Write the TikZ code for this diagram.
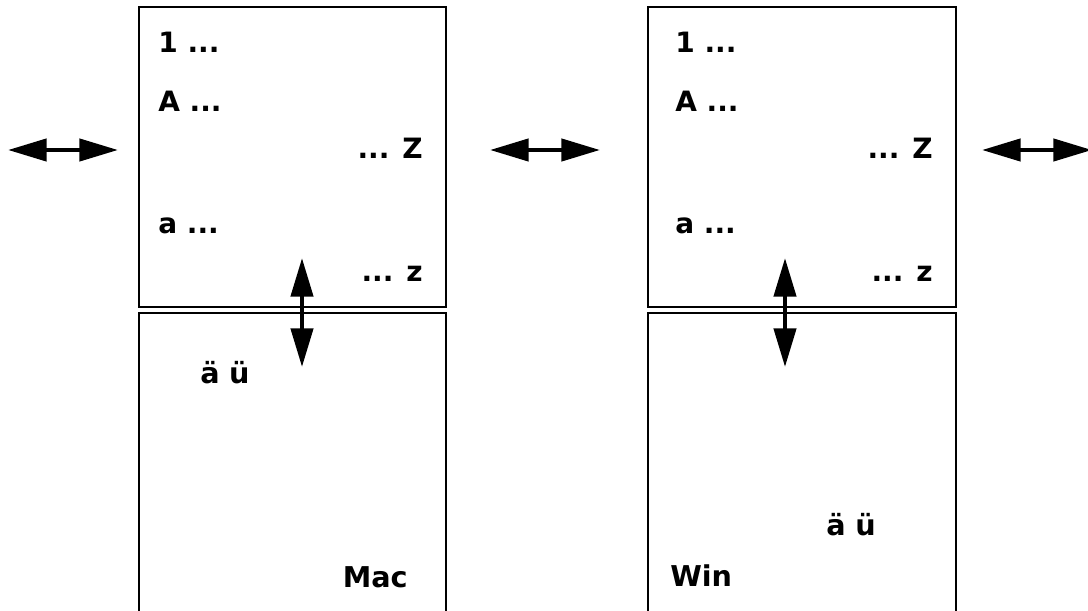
\documentclass[tikz,border=0pt]{standalone}
\usepackage{fontspec}
\setmainfont{DejaVu Sans}
\usetikzlibrary{arrows.meta}
\begin{document}
\begin{tikzpicture}[x=0.75pt,y=-0.75pt,
  panel/.style={draw=black,line width=2pt},
  dblarrow/.style={line width=3.3pt,{Triangle[length=29pt,width=16.5pt]}-{Triangle[length=29pt,width=16.5pt]}},
  uptext/.style={font=\bfseries\fontsize{21pt}{24pt}\selectfont,inner sep=0pt},
  lowtext/.style={font=\bfseries\fontsize{21.5pt}{24pt}\selectfont,inner sep=0pt}]
\useasboundingbox (0,0) rectangle (1088,610);
\begin{scope}
\clip (0,0) rectangle (1088,610);
% panels
\draw[panel] (139,7) rectangle (446,307);
\draw[panel] (139,313) rectangle (446,620);
\draw[panel] (648,7) rectangle (956,307);
\draw[panel] (648,313) rectangle (956,620);
% left column texts
\node[uptext,anchor=base west] (l1) at (158,53) {1 ...};
\node[uptext,anchor=base west] (lA) at (158,112) {A ...};
\node[uptext,anchor=base east] (lZ) at (423,158) {... Z};
\node[uptext,anchor=base west] (la) at (158,233) {a ...};
\node[uptext,anchor=base east] (lz) at (423,281) {... z};
\node[lowtext,anchor=base west] (lae) at (200,383) {ä\,\,ü};
\node[lowtext,anchor=base east] (lmac) at (408,587) {Mac};
% right column texts
\node[uptext,anchor=base west] (r1) at (675,53) {1 ...};
\node[uptext,anchor=base west] (rA) at (675,112) {A ...};
\node[uptext,anchor=base east] (rZ) at (933,158) {... Z};
\node[uptext,anchor=base west] (ra) at (675,233) {a ...};
\node[uptext,anchor=base east] (rz) at (933,281) {... z};
\node[lowtext,anchor=base east] (rae) at (876,535) {ä\,\,ü};
\node[lowtext,anchor=base west] (rwin) at (670,586) {Win};
% arrow ends
\coordinate (h1a) at (8,150);
\coordinate (h1b) at (118,150);
\coordinate (h2a) at (490,150);
\coordinate (h2b) at (600,150);
\coordinate (h3a) at (982,150);
\coordinate (h3b) at (1092,150);
\coordinate (v1a) at (302,258);
\coordinate (v1b) at (302,367);
\coordinate (v2a) at (785,258);
\coordinate (v2b) at (785,367);
\draw[dblarrow] (h1a) -- (h1b);
\draw[dblarrow] (h2a) -- (h2b);
\draw[dblarrow] (h3a) -- (h3b);
\draw[dblarrow] (v1a) -- (v1b);
\draw[dblarrow] (v2a) -- (v2b);
\end{scope}
\end{tikzpicture}
\end{document}
